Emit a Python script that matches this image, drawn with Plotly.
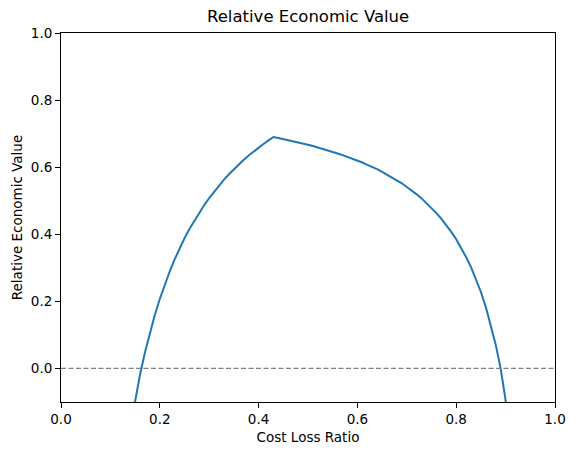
import plotly.graph_objects as go

# Cost/loss ratios (x) and relative economic value readings (y)
cost_loss = [0.14, 0.15, 0.16, 0.17, 0.18, 0.19, 0.20, 0.21, 0.22, 0.23, 0.24, 0.25,
             0.26, 0.27, 0.28, 0.29, 0.30, 0.31, 0.32, 0.33, 0.34, 0.35, 0.36, 0.37,
             0.38, 0.39, 0.40, 0.41, 0.42, 0.43, 0.44, 0.45, 0.46, 0.47, 0.48, 0.49,
             0.50, 0.51, 0.52, 0.53, 0.54, 0.55, 0.56, 0.57, 0.58, 0.59, 0.60, 0.61,
             0.62, 0.63, 0.64, 0.65, 0.66, 0.67, 0.68, 0.69, 0.70, 0.71, 0.72, 0.73,
             0.74, 0.75, 0.76, 0.77, 0.78, 0.79, 0.80, 0.81, 0.82, 0.83, 0.84, 0.85,
             0.86, 0.87, 0.88, 0.89, 0.90, 0.91]
rel_value = [-0.179, -0.093, -0.018, 0.048, 0.107, 0.160, 0.207, 0.250, 0.289, 0.325,
             0.358, 0.388, 0.416, 0.441, 0.465, 0.487, 0.508, 0.527, 0.546, 0.563,
             0.579, 0.594, 0.608, 0.622, 0.635, 0.647, 0.658, 0.669, 0.680, 0.690,
             0.687, 0.684, 0.681, 0.678, 0.674, 0.671, 0.667, 0.663, 0.659, 0.655,
             0.651, 0.646, 0.641, 0.636, 0.631, 0.626, 0.620, 0.614, 0.607, 0.601,
             0.594, 0.586, 0.578, 0.570, 0.561, 0.552, 0.541, 0.531, 0.519, 0.507,
             0.493, 0.479, 0.463, 0.446, 0.427, 0.407, 0.385, 0.360, 0.332, 0.302,
             0.267, 0.228, 0.183, 0.131, 0.071, 0.000, -0.086, -0.190]

x_ticks = [0.0, 0.2, 0.4, 0.6, 0.8, 1.0]
y_ticks = [0.0, 0.2, 0.4, 0.6, 0.8, 1.0]
reference_level = 0.0

FONT = "DejaVu Sans"

fig = go.Figure()
fig.add_trace(go.Scatter(x=cost_loss, y=rel_value, mode="lines",
                         line=dict(color="#1f77b4", width=2), showlegend=False,
                         hoverinfo="skip"))

fig.add_shape(type="line", xref="x domain", yref="y", x0=0, x1=1,
              y0=reference_level, y1=reference_level,
              line=dict(color="gray", width=1.3, dash="5px,2.5px"), layer="above")

axis_common = dict(showgrid=False, zeroline=False, showline=True, mirror=True,
                   linecolor="black", linewidth=1, ticks="outside", ticklen=5,
                   tickwidth=1, tickcolor="black", tickformat=".1f",
                   tickfont=dict(family=FONT, size=13.5, color="black"))

fig.update_layout(
    width=578, height=455,
    margin=dict(l=61, r=21, t=33, b=53, pad=0),
    paper_bgcolor="white", plot_bgcolor="white",
    font=dict(family=FONT, color="black"),
    xaxis=dict(range=[0, 1], tickvals=x_ticks,
               title=dict(text="Cost Loss Ratio", font=dict(family=FONT, size=13.5), standoff=6),
               **axis_common),
    yaxis=dict(range=[-0.1, 1], tickvals=y_ticks,
               title=dict(text="Relative Economic Value", font=dict(family=FONT, size=13.5), standoff=5),
               **axis_common),
    annotations=[dict(text="Relative Economic Value", xref="paper", yref="paper",
                      x=0.5, y=1, xanchor="center", yanchor="bottom", yshift=5,
                      showarrow=False, font=dict(family=FONT, size=16.5, color="black"))],
)

fig.write_html("out.html")
